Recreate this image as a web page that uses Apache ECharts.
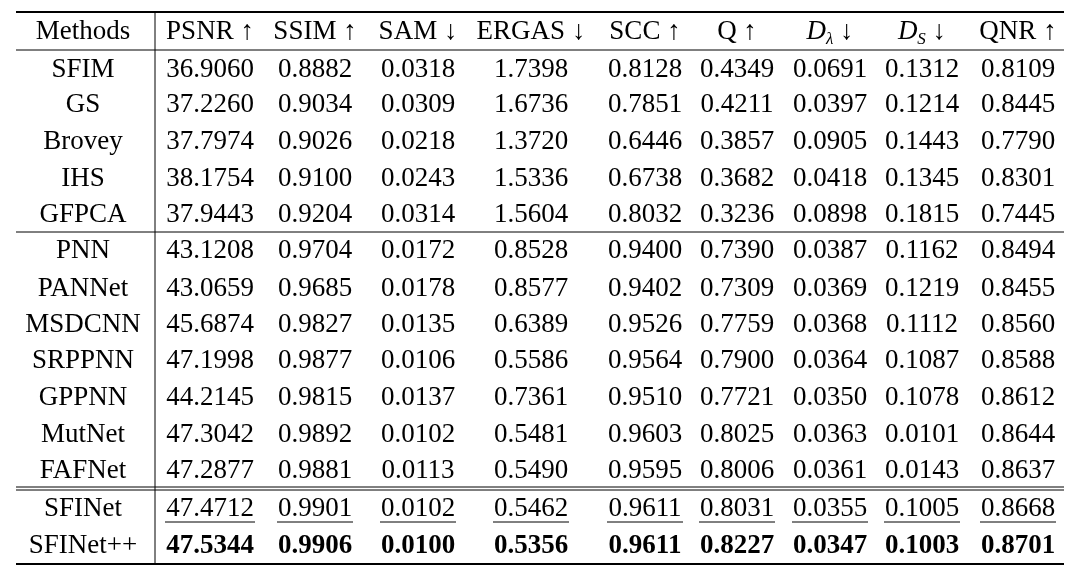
<!DOCTYPE html>
<html>
<head>
<meta charset="utf-8">
<script src="https://cdn.jsdelivr.net/npm/echarts@6/dist/echarts.min.js"></script>
<style>html,body{margin:0;padding:0;background:#fff}#chart{width:1080px;height:573px}</style>
</head>
<body>
<div id="chart"></div>
<script>
var headers = ['Methods', 'PSNR ↑', 'SSIM ↑', 'SAM ↓', 'ERGAS ↓', 'SCC ↑', 'Q ↑', '{i|D}{s|λ} ↓', '{i|D}{s|S} ↓', 'QNR ↑'];
var methods = ['SFIM', 'GS', 'Brovey', 'IHS', 'GFPCA', 'PNN', 'PANNet', 'MSDCNN', 'SRPPNN', 'GPPNN', 'MutNet', 'FAFNet', 'SFINet', 'SFINet++'];
var psnr  = ['36.9060', '37.2260', '37.7974', '38.1754', '37.9443', '43.1208', '43.0659', '45.6874', '47.1998', '44.2145', '47.3042', '47.2877', '47.4712', '47.5344'];
var ssim  = ['0.8882', '0.9034', '0.9026', '0.9100', '0.9204', '0.9704', '0.9685', '0.9827', '0.9877', '0.9815', '0.9892', '0.9881', '0.9901', '0.9906'];
var sam   = ['0.0318', '0.0309', '0.0218', '0.0243', '0.0314', '0.0172', '0.0178', '0.0135', '0.0106', '0.0137', '0.0102', '0.0113', '0.0102', '0.0100'];
var ergas = ['1.7398', '1.6736', '1.3720', '1.5336', '1.5604', '0.8528', '0.8577', '0.6389', '0.5586', '0.7361', '0.5481', '0.5490', '0.5462', '0.5356'];
var scc   = ['0.8128', '0.7851', '0.6446', '0.6738', '0.8032', '0.9400', '0.9402', '0.9526', '0.9564', '0.9510', '0.9603', '0.9595', '0.9611', '0.9611'];
var q     = ['0.4349', '0.4211', '0.3857', '0.3682', '0.3236', '0.7390', '0.7309', '0.7759', '0.7900', '0.7721', '0.8025', '0.8006', '0.8031', '0.8227'];
var dl    = ['0.0691', '0.0397', '0.0905', '0.0418', '0.0898', '0.0387', '0.0369', '0.0368', '0.0364', '0.0350', '0.0363', '0.0361', '0.0355', '0.0347'];
var ds    = ['0.1312', '0.1214', '0.1443', '0.1345', '0.1815', '0.1162', '0.1219', '0.1112', '0.1087', '0.1078', '0.0101', '0.0143', '0.1005', '0.1003'];
var qnr   = ['0.8109', '0.8445', '0.7790', '0.8301', '0.7445', '0.8494', '0.8455', '0.8560', '0.8588', '0.8612', '0.8644', '0.8637', '0.8668', '0.8701'];

// layout
var colX = [83, 210, 315, 418, 531, 645, 737, 830, 922, 1018];
var rowY = [32, 70, 105, 142, 179, 215, 251, 289, 325, 361, 398, 435, 471, 509, 546];
var font = 'Liberation Serif';
var fs = 27;

var columns = [methods, psnr, ssim, sam, ergas, scc, q, dl, ds, qnr];
var cells = [];
headers.forEach(function (h, c) { cells.push([colX[c], rowY[0], h, 'h']); });
methods.forEach(function (m, r) {
  columns.forEach(function (col, c) {
    var style = 'n';
    if (c > 0 && r === 12) style = 'u';
    if (c > 0 && r === 13) style = 'b';
    cells.push([colX[c], rowY[r + 1], col[r], style]);
  });
});

var chart = echarts.init(document.getElementById('chart'));
function hline(y, w) {
  return { type: 'line', shape: { x1: 16, y1: y, x2: 1064, y2: y }, style: { stroke: '#000', lineWidth: w } };
}
chart.setOption({
  animation: false,
  grid: { left: 0, right: 0, top: 0, bottom: 0 },
  xAxis: { type: 'value', min: 0, max: 1080, show: false },
  yAxis: { type: 'value', min: 0, max: 573, inverse: true, show: false },
  graphic: [
    hline(12, 2), hline(50, 1), hline(232, 1), hline(487, 1), hline(490, 1), hline(564, 2),
    { type: 'line', shape: { x1: 155, y1: 12, x2: 155, y2: 564 }, style: { stroke: '#000', lineWidth: 1 } }
  ],
  series: [{
    type: 'custom',
    data: cells,
    renderItem: function (params, api) {
      var p = api.coord([api.value(0), api.value(1)]);
      var d = cells[params.dataIndex];
      var children = [{
        type: 'text',
        x: p[0], y: p[1],
        style: {
          text: d[2], align: 'center', verticalAlign: 'middle',
          font: (d[3] === 'b' ? 'bold ' : '') + fs + 'px "' + font + '"', fill: '#000',
          rich: {
            i: { fontStyle: 'italic', fontSize: fs, fontFamily: font, lineHeight: 32 },
            s: { fontStyle: 'italic', fontSize: 17, fontFamily: font, lineHeight: 32, verticalAlign: 'bottom', padding: [10, 0, 0, 0] }
          }
        }
      }];
      if (d[3] === 'u') {
        var w = d[2].length > 6 ? 90 : 76;
        children.push({ type: 'line', shape: { x1: p[0] - w / 2, y1: p[1] + 13, x2: p[0] + w / 2, y2: p[1] + 13 }, style: { stroke: '#000', lineWidth: 1 } });
      }
      return { type: 'group', children: children };
    }
  }]
});
</script>
</body>
</html>
